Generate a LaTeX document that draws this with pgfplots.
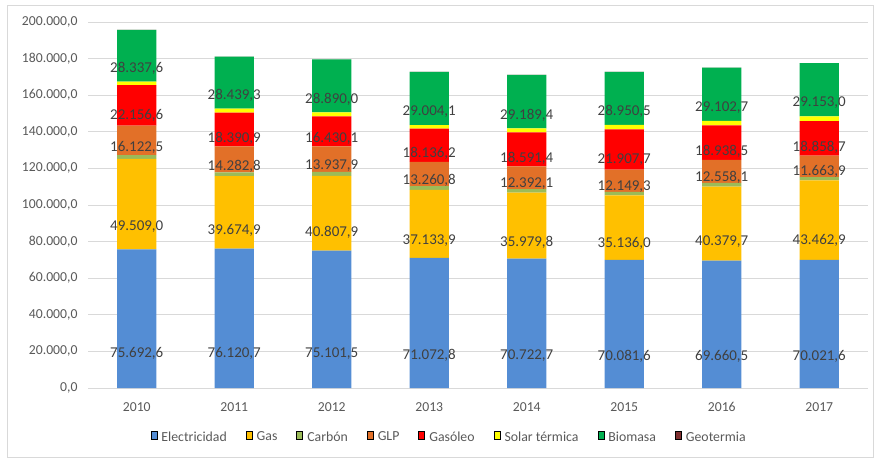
\documentclass[border=0pt]{standalone}
\usepackage{pgfplots}
\pgfplotsset{compat=1.18}
\usepackage{pgfplotstable}
\usepackage{fontspec}
\setmainfont{Carlito}

\definecolor{cElec}{RGB}{84,141,212}
\definecolor{cGas}{RGB}{255,192,0}
\definecolor{cCarb}{RGB}{155,187,89}
\definecolor{cGLP}{RGB}{226,112,40}
\definecolor{cGasoleo}{RGB}{255,0,0}
\definecolor{cSolar}{RGB}{255,255,0}
\definecolor{cBio}{RGB}{0,176,80}
\definecolor{cGeo}{RGB}{127,47,47}
\definecolor{gridgray}{RGB}{217,217,217}
\definecolor{ticktext}{RGB}{89,89,89}
\definecolor{labtext}{RGB}{64,64,64}

\pgfplotstableread{
x elec gas carbon glp gasoleo solar bio geo
0 75692.6 49509.0 2000 16122.5 22156.6 1900 28337.6 20
1 76120.7 39674.9 2000 14282.8 18390.9 2200 28439.3 20
2 75101.5 40807.9 2200 13937.9 16430.1 2200 28890.0 20
3 71072.8 37133.9 2100 13260.8 18136.2 2000 29004.1 20
4 70722.7 35979.8 2000 12392.1 18591.4 2200 29189.4 20
5 70081.6 35136.0 2000 12149.3 21907.7 2500 28950.5 20
6 69660.5 40379.7 2000 12558.1 18938.5 2400 29102.7 20
7 70021.6 43462.9 1800 11663.9 18858.7 2600 29153.0 20
}\datatable

\pgfplotsset{
  /pgfplots/ybar legend/.style={
    /pgfplots/legend image code/.code={%
      \fill[##1,/tikz/.cd,yshift=-3.5pt] (0pt,0pt) rectangle (7pt,7pt);},
  },
  calcoff/.code={%
    \begingroup
    \pgfkeys{/pgf/fpu=true,/pgf/fpu/output format=fixed}%
    \pgfmathparse{\pgfplotspointmeta*0.0004575}%
    \global\let\myoff\pgfmathresult
    \endgroup},
  midlabel/.style={
    point meta=explicit,
    nodes near coords={\pgfmathprintnumber[fixed,fixed zerofill,precision=1,use comma,1000 sep={.},assume math mode=true]{\pgfplotspointmeta}},
    every node near coord/.append style={anchor=center,/pgfplots/calcoff,yshift=-\myoff pt,
      font=\fontsize{15}{17}\selectfont,text=labtext,inner sep=0pt},
  },
}

\begin{document}
\begin{tikzpicture}
\useasboundingbox (0pt,0pt) rectangle (874pt,459pt);
\draw[gridgray,line width=0.8pt] (7pt,2pt) rectangle (873pt,454pt);
\begin{axis}[
  at={(88pt,71pt)}, anchor=south west,
  scale only axis, width=780pt, height=366pt,
  ybar stacked, bar width=39.4pt,
  xmin=-0.5, xmax=7.5,
  ymin=0, ymax=200000,
  xtick={0,...,7},
  xticklabels={2010,2011,2012,2013,2014,2015,2016,2017},
  ytick={0,20000,...,200000},
  scaled y ticks=false,
  yticklabel style={/pgf/number format/fixed,/pgf/number format/fixed zerofill,/pgf/number format/precision=1,/pgf/number format/use comma,/pgf/number format/1000 sep={.},/pgf/number format/assume math mode=true},
  y tick label style={font=\fontsize{13.7}{15}\selectfont,text=ticktext,xshift=-7pt},
  x tick label style={font=\fontsize{13.7}{15}\selectfont,text=ticktext,yshift=-11pt},
  major tick length=0pt,
  ymajorgrids,
  grid style={gridgray,line width=0.9pt},
  axis line style={draw=none},
  legend columns=8,
  legend style={at={(0.463,-0.134)},anchor=center,draw=none,fill=none,
    font=\fontsize{13.8}{15}\selectfont,text=ticktext,
    /tikz/every odd column/.append style={column sep=2.5pt},
    /tikz/every even column/.append style={column sep=17pt}},
  legend cell align=left,
]
\addplot[fill=cElec,draw=none,midlabel] table[x=x,y=elec,meta=elec]{\datatable};
\addplot[fill=cGas,draw=none,midlabel] table[x=x,y=gas,meta=gas]{\datatable};
\addplot[fill=cCarb,draw=none] table[x=x,y=carbon]{\datatable};
\addplot[fill=cGLP,draw=none,midlabel] table[x=x,y=glp,meta=glp]{\datatable};
\addplot[fill=cGasoleo,draw=none,midlabel] table[x=x,y=gasoleo,meta=gasoleo]{\datatable};
\addplot[fill=cSolar,draw=none] table[x=x,y=solar]{\datatable};
\addplot[fill=cBio,draw=none,midlabel] table[x=x,y=bio,meta=bio]{\datatable};
\addplot[fill=cGeo,draw=none] table[x=x,y=geo]{\datatable};
\legend{Electricidad,Gas,Carbón,GLP,Gasóleo,Solar térmica,Biomasa,Geotermia}
\end{axis}
\end{tikzpicture}
\end{document}
